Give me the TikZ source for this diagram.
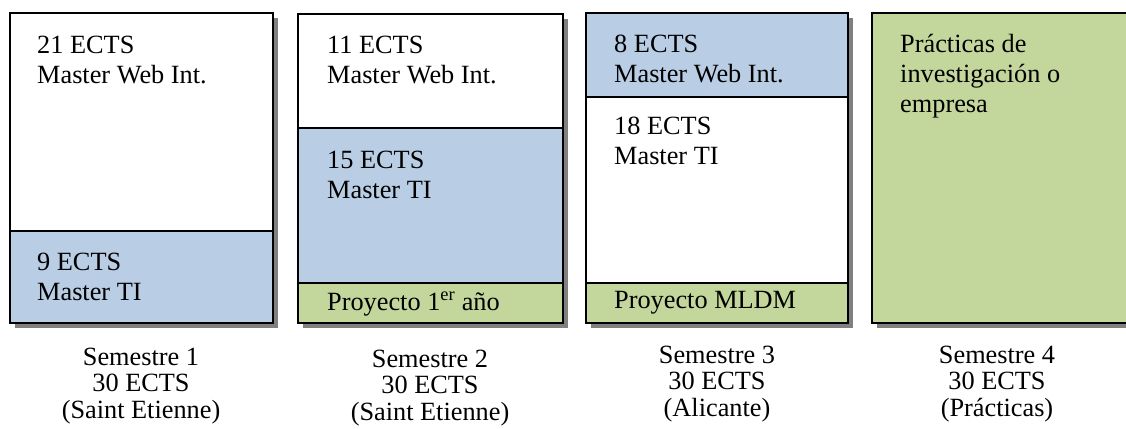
\documentclass[tikz,border=0pt]{standalone}
\usepackage{fontspec}
\setmainfont{Liberation Serif}
\definecolor{sblue}{HTML}{B9CDE5}
\definecolor{sgreen}{HTML}{C3D69B}
\definecolor{sshadow}{HTML}{808080}
\begin{document}
\begin{tikzpicture}[x=1pt,y=-1pt,
  seg/.style={draw=black,line width=1.6pt},
  shadowbox/.style={fill=sshadow},
  txt/.style={anchor=base west,inner sep=0pt,align=left,font=\fontsize{26.3}{30}\selectfont},
  lbl/.style={anchor=base,inner sep=0pt,align=center,font=\fontsize{26.3}{26.5}\selectfont}]
\clip (0,0) rectangle (1126,428);
\useasboundingbox (0,0) rectangle (1126,428);
\fill[white] (0,0) rectangle (1126,428);
% Box 1
\fill[shadowbox] (15,18) rectangle (278,328);
\filldraw[seg,fill=white] (10,13) rectangle (273,231);
\filldraw[seg,fill=sblue] (10,231) rectangle (273,323);
\node[txt] (b1a) at (37,83) {21 ECTS\\Master Web Int.};
\node[txt] (b1b) at (37,300) {9 ECTS\\Master TI};
% Box 2
\fill[shadowbox] (303,19) rectangle (568,328);
\filldraw[seg,fill=white] (298,14) rectangle (563,128);
\filldraw[seg,fill=sblue] (298,128) rectangle (563,283);
\filldraw[seg,fill=sgreen] (298,283) rectangle (563,323);
\node[txt] (b2a) at (327,83) {11 ECTS\\Master Web Int.};
\node[txt] (b2b) at (327,198) {15 ECTS\\Master TI};
\node[txt] (b2c) at (327,310) {Proyecto 1\textsuperscript{er} año};
% Box 3
\fill[shadowbox] (591,18) rectangle (853,328);
\filldraw[seg,fill=sblue] (586,13) rectangle (848,97);
\filldraw[seg,fill=white] (586,97) rectangle (848,283);
\filldraw[seg,fill=sgreen] (586,283) rectangle (848,323);
\node[txt] (b3a) at (614,82) {8 ECTS\\Master Web Int.};
\node[txt] (b3b) at (614,164) {18 ECTS\\Master TI};
\node[txt] (b3c) at (614,308) {Proyecto MLDM};
% Box 4
\fill[shadowbox] (877,18) rectangle (1140,328);
\filldraw[seg,fill=sgreen] (872,13) rectangle (1135,323);
\node[txt] (b4a) at (900,112) {Prácticas de\\investigación o\\empresa};
% Labels
\node[lbl] (s1) at (141,418) {Semestre 1\\30 ECTS\\(Saint Etienne)};
\node[lbl] (s2) at (430,420) {Semestre 2\\30 ECTS\\(Saint Etienne)};
\node[lbl] (s3) at (717,416) {Semestre 3\\30 ECTS\\(Alicante)};
\node[lbl] (s4) at (997,416) {Semestre 4\\30 ECTS\\(Prácticas)};
\end{tikzpicture}
\end{document}
